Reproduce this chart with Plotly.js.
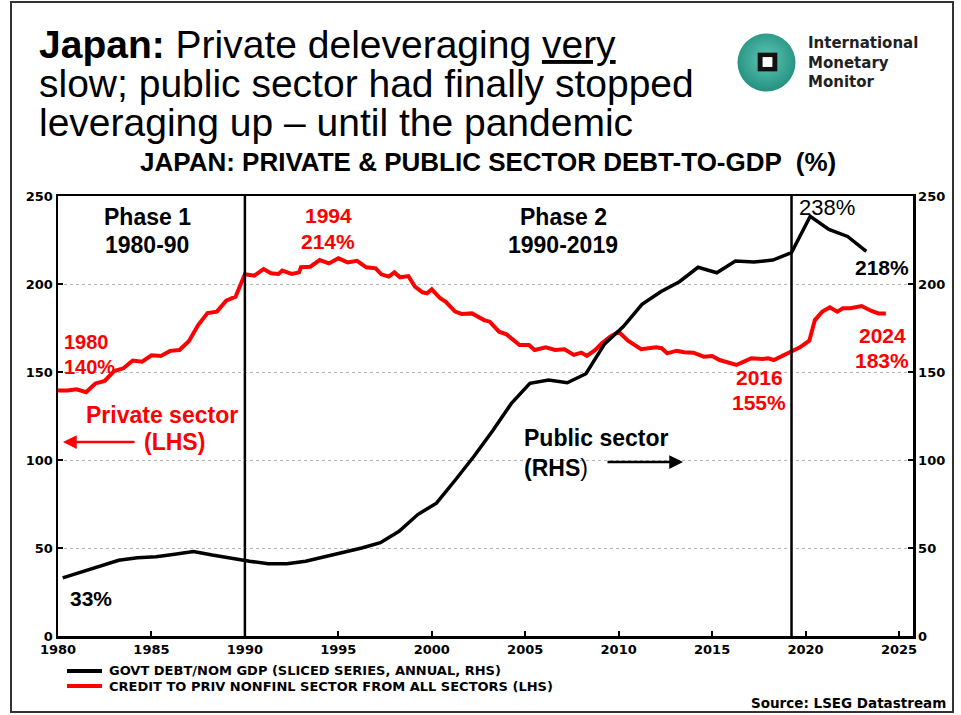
<!DOCTYPE html>
<html>
<head>
<meta charset="utf-8">
<script src="https://cdn.plot.ly/plotly-3.0.1.min.js"></script>
<style>
html,body{margin:0;padding:0;background:#fff;}
#wrap{position:relative;width:961px;height:715px;overflow:hidden;}
#chart{position:absolute;left:0;top:0;width:961px;height:715px;}
#frame{position:absolute;left:10px;top:1px;width:944px;height:712px;border:2px solid #333;box-sizing:border-box;pointer-events:none;}
</style>
</head>
<body>
<div id="wrap"><div id="chart"></div><div id="frame"></div></div>
<script>
// ---- DATA ----
// Private sector credit (LHS, % of GDP), quarterly-ish readings
const privYears = [
  1980.0,1980.5,1981.0,1981.5,1982.0,1982.5,1983.0,1983.5,1984.0,1984.5,
  1985.0,1985.5,1986.0,1986.5,1987.0,1987.5,1988.0,1988.5,1989.0,1989.5,
  1990.0,1990.5,1991.0,1991.4,1991.8,1992.0,1992.5,1992.9,1993.0,1993.5,
  1994.0,1994.5,1995.0,1995.5,1996.0,1996.5,1997.0,1997.3,1997.7,1998.0,
  1998.3,1998.75,1999.1,1999.5,1999.75,2000.0,2000.45,2000.75,2001.25,2001.6,
  2002.15,2002.8,2003.1,2003.6,2004.0,2004.7,2005.2,2005.5,2006.1,2006.6,
  2007.1,2007.6,2008.0,2008.3,2008.75,2009.1,2009.55,2010.0,2010.5,2011.2,
  2012.0,2012.3,2012.6,2013.1,2013.5,2014.0,2014.55,2015.0,2015.4,2015.8,
  2016.3,2016.7,2017.1,2017.7,2018.0,2018.3,2018.65,2019.2,2019.7,2020.2,
  2020.5,2020.9,2021.3,2021.7,2022.0,2022.4,2023.0,2023.5,2023.9,2024.3
];
const privValues = [
  139.5,139.5,140.2,138.5,143.5,144.9,150.5,152.1,156.5,155.9,
  159.5,159.1,162.0,162.5,167.5,176.7,183.5,184.3,190.5,192.8,
  205.5,204.7,208.5,206.1,205.7,207.6,205.7,206.6,209.5,209.8,
  213.6,211.7,214.6,212.3,213.2,209.5,208.9,205.5,204.2,206.6,
  203.8,204.5,198.5,195.3,194.7,197.0,191.9,189.9,184.3,183.0,
  183.3,179.5,178.6,172.9,171.4,165.3,165.3,162.5,164.0,162.5,
  162.9,159.7,161.0,159.1,162.5,166.3,170.1,172.9,167.8,163.0,
  164.0,163.5,160.6,162.1,161.2,161.0,158.7,159.1,156.8,155.3,
  154.0,155.9,157.8,157.4,157.8,156.8,158.7,161.9,164.0,167.8,
  179.5,184.3,186.8,184.3,186.2,186.2,187.5,184.8,183.3,183.3
];
// Government debt / nominal GDP (RHS, %), annual (fiscal-year timing)
const govtYears = [
  1980.25,1981.25,1982.25,1983.25,1984.25,1985.25,1986.25,1987.25,1988.25,1989.25,
  1990.25,1991.25,1992.25,1993.25,1994.25,1995.25,1996.25,1997.25,1998.25,1999.25,
  2000.25,2001.25,2002.25,2003.25,2004.25,2005.25,2006.25,2007.25,2008.25,2009.25,
  2010.25,2011.25,2012.25,2013.25,2014.25,2015.25,2016.25,2017.25,2018.25,2019.25,
  2020.25,2021.25,2022.25,2023.25
];
const govtValues = [
  33,36.3,39.5,43,44.5,45,46.5,48,46,44,
  42.5,41,41,42.5,45,47,50,53,59.5,69,
  75.5,88.5,102,116.5,132,143.6,145.5,143.9,149,166,
  175.8,188.4,195.6,201.3,209.5,206.4,213.1,212.5,213.6,217.8,
  238.5,231,227,218.5
];
const xTicks = [1980,1985,1990,1995,2000,2005,2010,2015,2020,2025];
const phaseLines = [1990, 2019.25];
const seriesNames = ['GOVT DEBT/NOM GDP (SLICED SERIES, ANNUAL, RHS)',
                     'CREDIT TO PRIV NONFINL SECTOR FROM ALL SECTORS (LHS)'];

// ---- LAYOUT HELPERS (pixel -> paper) ----
const W = 961, H = 715;
const PL = 58, PR = 913, PT = 196, PB = 636;
const xp = px => (px - PL) / (PR - PL);
const yp = py => (PB - py) / (PB - PT);
const RED = '#ff0000', BLK = '#000000';
const TF = 'Liberation Sans, Arial, sans-serif';
const DF = 'DejaVu Sans, sans-serif';

function T(text, x, y, size, color, xanchor, fam) {
  return {text: text, xref: 'paper', yref: 'paper', x: xp(x), y: yp(y),
          xanchor: xanchor || 'center', yanchor: 'middle', showarrow: false,
          align: (xanchor === 'left' ? 'left' : (xanchor === 'right' ? 'right' : 'center')),
          font: {family: fam || TF, size: size, color: color || BLK}};
}
function arrow(headX, tailX, y, color, width) {
  return {text: '', xref: 'paper', yref: 'paper', x: xp(headX), y: yp(y),
          axref: 'pixel', ayref: 'pixel', ax: tailX - headX, ay: 0,
          showarrow: true, arrowhead: 2, arrowsize: 1.1, arrowwidth: width,
          arrowcolor: color, standoff: 0};
}

const annotations = [
  T('<b>Japan:</b> Private deleveraging <u>very</u>', 37, 45, 39, BLK, 'left'),
  T('slow; public sector had finally stopped', 37, 84, 39, BLK, 'left'),
  T('leveraging up \u2013 until the pandemic', 37, 123, 39, BLK, 'left'),
  T('<b>JAPAN: PRIVATE &amp; PUBLIC SECTOR DEBT-TO-GDP  (%)</b>', 488, 162, 26, BLK),
  T('<b>International<br>Monetary<br>Monitor</b>', 806, 62, 15, '#222', 'left', DF),
  T('<b>Phase 1</b>', 147, 217, 23, BLK),
  T('<b>1980-90</b>', 147, 245, 23, BLK),
  T('<b>1994</b>', 328, 216, 21, RED),
  T('<b>214%</b>', 328, 242, 21, RED),
  T('<b>Phase 2</b>', 563, 217, 23, BLK),
  T('<b>1990-2019</b>', 563, 245, 23, BLK),
  T('238%', 827, 207, 22, BLK),
  T('<b>218%</b>', 882, 267, 21, BLK),
  T('<b>1980</b>', 62, 342, 20, RED, 'left'),
  T('<b>140%</b>', 62, 367, 20, RED, 'left'),
  T('<b>Private sector</b>', 162, 415, 23, RED),
  T('<b>(LHS)</b>', 174, 442, 23, RED),
  T('<b>Public sector</b>', 522, 438, 23, BLK, 'left'),
  T('<b>(RHS</b>)', 522, 468, 23, BLK, 'left'),
  T('<b>2016</b>', 759, 377, 21, RED),
  T('<b>155%</b>', 759, 402, 21, RED),
  T('<b>2024</b>', 882, 335, 21, RED),
  T('<b>183%</b>', 882, 360, 21, RED),
  T('<b>33%</b>', 68, 598, 21, BLK, 'left'),
  T('<b>' + seriesNames[0] + '</b>', 107, 670, 13, BLK, 'left', DF),
  T('<b>' + seriesNames[1] + '</b>', 107, 686, 13, BLK, 'left', DF),
  T('<b>Source: LSEG Datastream</b>', 948, 703, 13.5, BLK, 'right', DF),
  arrow(63, 136, 442, RED, 2.5),
  arrow(683, 606, 462, BLK, 2.5)
];

const shapes = phaseLines.map(yr => ({
  type: 'line', xref: 'x', yref: 'paper', x0: yr, x1: yr, y0: 0, y1: 1,
  line: {color: BLK, width: 2.5}
}));
shapes.push({type: 'line', xref: 'paper', yref: 'paper', x0: xp(67), x1: xp(102), y0: yp(671), y1: yp(671), line: {color: BLK, width: 4}});
shapes.push({type: 'line', xref: 'paper', yref: 'paper', x0: xp(67), x1: xp(102), y0: yp(686), y1: yp(686), line: {color: RED, width: 4}});

const svg = "<svg xmlns='http://www.w3.org/2000/svg' width='60' height='60' viewBox='0 0 60 60'>" +
  "<defs><radialGradient id='g' cx='50%' cy='45%' r='55%'><stop offset='0' stop-color='#62c6b7'/>" +
  "<stop offset='1' stop-color='#23917f'/></radialGradient></defs>" +
  "<circle cx='30' cy='30' r='29.5' fill='url(#g)'/>" +
  "<rect x='21' y='20' width='20' height='19' fill='#111'/>" +
  "<rect x='26' y='24.5' width='10' height='10' fill='#fff'/></svg>";

const traces = [
  {x: privYears, y: privValues, type: 'scatter', mode: 'lines', name: seriesNames[1],
   line: {color: RED, width: 4}, yaxis: 'y'},
  {x: govtYears, y: govtValues, type: 'scatter', mode: 'lines', name: seriesNames[0],
   line: {color: BLK, width: 3.5}, yaxis: 'y2'}
];

const tickFont = {family: DF, size: 13, color: BLK, weight: 'bold'};
const layout = {
  width: W, height: H,
  margin: {l: PL, r: W - PR, t: PT, b: H - PB, pad: 0},
  paper_bgcolor: '#fff', plot_bgcolor: '#fff',
  showlegend: false,
  xaxis: {range: [1980, 2025.75], tickvals: xTicks, ticktext: xTicks.map(String),
          ticks: 'inside', ticklen: 5, tickwidth: 2, tickcolor: BLK,
          showline: true, linewidth: 2.5, linecolor: BLK, mirror: true,
          showgrid: false, zeroline: false, tickfont: tickFont},
  yaxis: {range: [0, 250], dtick: 50, ticks: 'inside', ticklen: 5, tickwidth: 2, tickcolor: BLK,
          showline: true, linewidth: 2.5, linecolor: BLK,
          showgrid: true, gridcolor: '#b5b5b5', griddash: 'dot', gridwidth: 1,
          zeroline: false, tickfont: tickFont},
  yaxis2: {range: [0, 250], dtick: 50, overlaying: 'y', side: 'right',
           ticks: 'inside', ticklen: 5, tickwidth: 2, tickcolor: BLK,
           showline: true, linewidth: 2.5, linecolor: BLK,
           showgrid: false, zeroline: false, tickfont: tickFont},
  annotations: annotations,
  shapes: shapes,
  images: [{source: 'data:image/svg+xml;charset=utf-8,' + encodeURIComponent(svg),
            xref: 'paper', yref: 'paper', x: xp(737), y: yp(33),
            sizex: 59 / (PR - PL), sizey: 59 / (PB - PT),
            xanchor: 'left', yanchor: 'top', sizing: 'stretch', layer: 'above'}]
};

Plotly.newPlot('chart', traces, layout, {displayModeBar: false, staticPlot: true});
</script>
</body>
</html>
